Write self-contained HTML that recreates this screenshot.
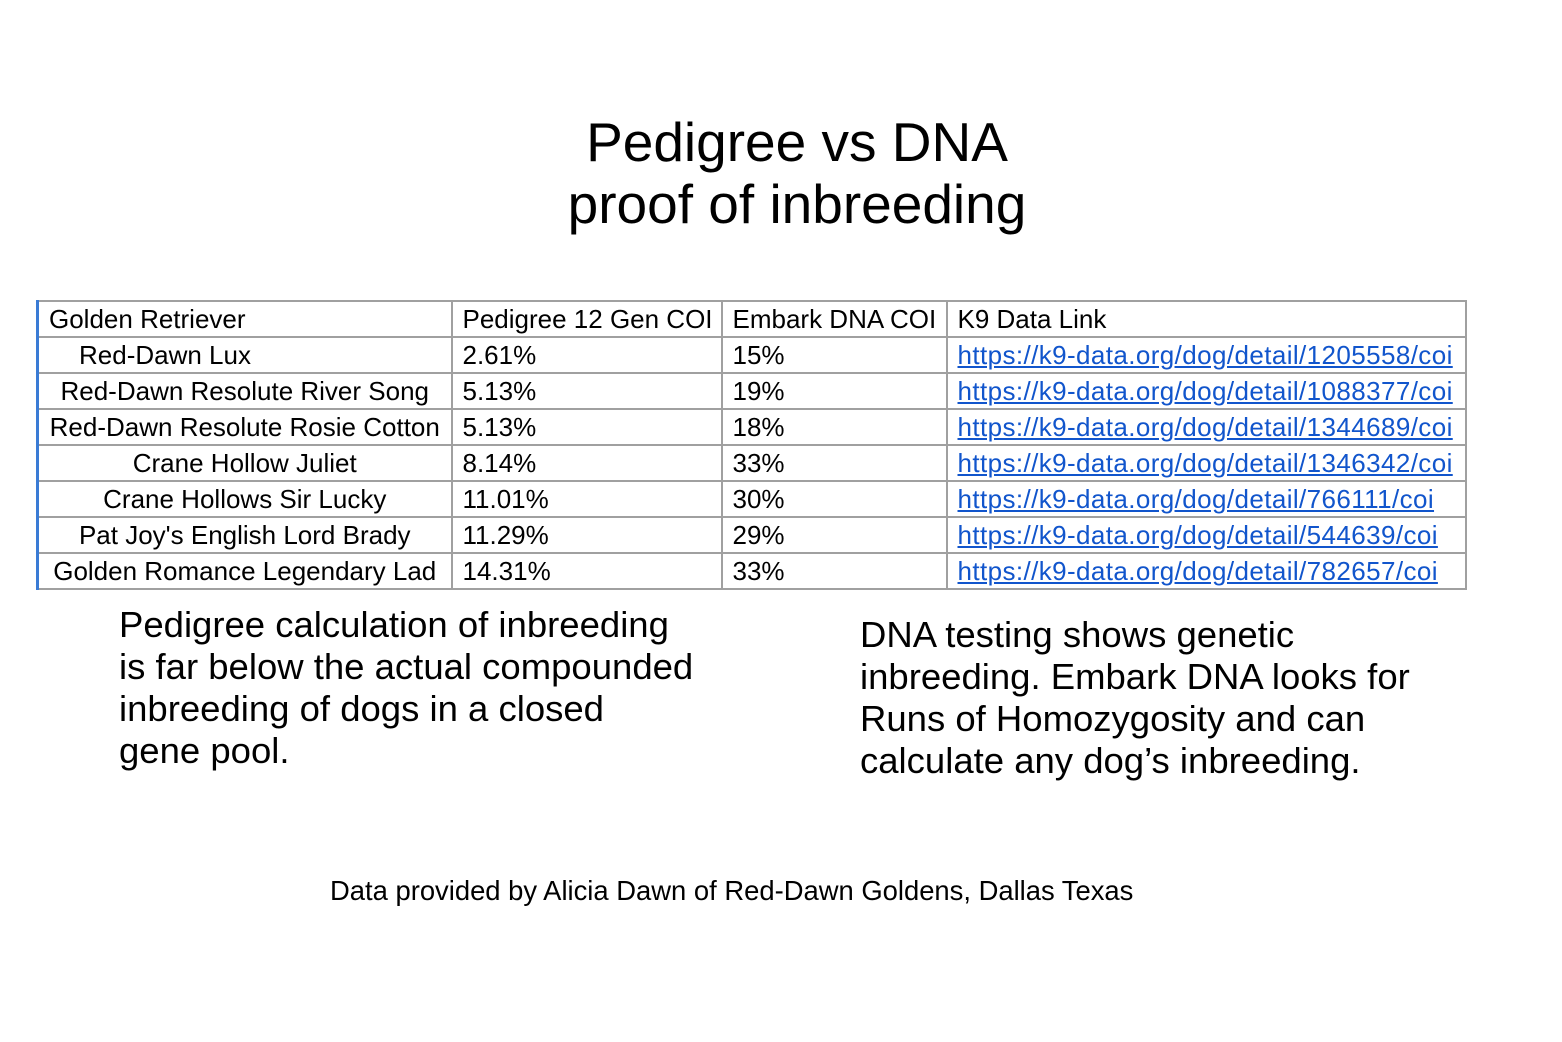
<!DOCTYPE html>
<html><head><style>
body{margin:0;width:1562px;height:1042px;background:#fff;font-family:"Liberation Sans",sans-serif;color:#000;position:relative;overflow:hidden}
.t{position:absolute;white-space:nowrap}
table{position:absolute;left:36px;top:300px;border-collapse:collapse;font-size:26px;table-layout:fixed;width:1428px}
td{border:2px solid #a0a0a0;height:34px;padding:0 0 0 10px;line-height:34px;white-space:nowrap;overflow:hidden;box-sizing:border-box}
tr{height:36px}
td:first-child{border-left:3px solid #3a7bd5;text-align:center;padding:0}
a{color:#1155cc;text-decoration:underline;letter-spacing:0.4px}
</style></head><body>
<div class="t" style="left:0;width:1594px;text-align:center;top:111px;font-size:55px;line-height:62px">Pedigree vs DNA<br>proof of inbreeding</div>
<table>
<colgroup><col style="width:414px"><col style="width:270px"><col style="width:225px"><col style="width:519px"></colgroup>
<tr><td style="text-align:left;padding-left:10px">Golden Retriever</td><td>Pedigree 12 Gen COI</td><td>Embark DNA COI</td><td>K9 Data Link</td></tr>
<tr><td style="text-align:left;padding-left:40px">Red-Dawn Lux</td><td>2.61%</td><td>15%</td><td><a>https://k9-data.org/dog/detail/1205558/coi</a></td></tr>
<tr><td>Red-Dawn Resolute River Song</td><td>5.13%</td><td>19%</td><td><a>https://k9-data.org/dog/detail/1088377/coi</a></td></tr>
<tr><td>Red-Dawn Resolute Rosie Cotton</td><td>5.13%</td><td>18%</td><td><a>https://k9-data.org/dog/detail/1344689/coi</a></td></tr>
<tr><td>Crane Hollow Juliet</td><td>8.14%</td><td>33%</td><td><a>https://k9-data.org/dog/detail/1346342/coi</a></td></tr>
<tr><td>Crane Hollows Sir Lucky</td><td>11.01%</td><td>30%</td><td><a>https://k9-data.org/dog/detail/766111/coi</a></td></tr>
<tr><td>Pat Joy's English Lord Brady</td><td>11.29%</td><td>29%</td><td><a>https://k9-data.org/dog/detail/544639/coi</a></td></tr>
<tr><td>Golden Romance Legendary Lad</td><td>14.31%</td><td>33%</td><td><a>https://k9-data.org/dog/detail/782657/coi</a></td></tr>
</table>
<div class="t" style="left:119px;top:604px;font-size:36.5px;line-height:42px">Pedigree calculation of inbreeding<br>is far below the actual compounded<br>inbreeding of dogs in a closed<br>gene pool.</div>
<div class="t" style="left:860px;top:614px;font-size:36.5px;line-height:42px">DNA testing shows genetic<br>inbreeding. Embark DNA looks for<br>Runs of Homozygosity and can<br>calculate any dog’s inbreeding.</div>
<div class="t" style="left:330px;top:875px;font-size:27.4px">Data provided by Alicia Dawn of Red-Dawn Goldens, Dallas Texas</div>
</body></html>
